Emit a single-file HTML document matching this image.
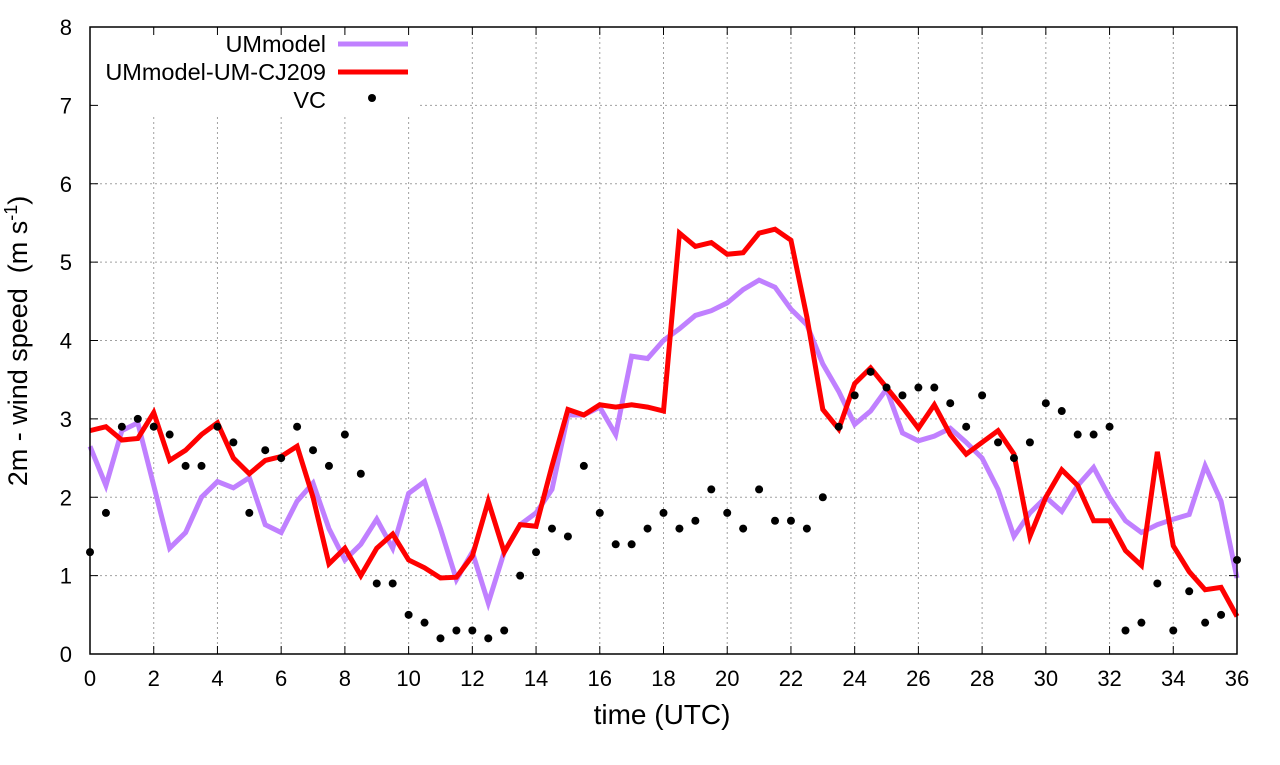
<!DOCTYPE html>
<html><head><meta charset="utf-8"><style>
body{margin:0;background:#fff;}
svg text{font-family:"Liberation Sans",sans-serif;fill:#000;}
</style></head><body>
<svg id="chart" width="1280" height="760" xmlns="http://www.w3.org/2000/svg">
<g id="grid"></g>
<rect x="92" y="29" width="328" height="88" fill="#fff"/>
<g id="series"></g>
<rect x="90" y="27" width="1147" height="627" fill="none" stroke="#000" stroke-width="1.5"/>
<g id="ticks"></g>
<text x="662" y="724" font-size="28" text-anchor="middle">time (UTC)</text>
<text transform="translate(27,341) rotate(-90)" font-size="27" text-anchor="middle">2m - wind speed &#160;(m s<tspan dy="-10" font-size="18">-1</tspan><tspan dy="10">)</tspan></text>
<g>
<g><text x="326" y="52" font-size="23.5" text-anchor="end">UMmodel</text><line x1="338" y1="44" x2="408" y2="44" stroke="#c080ff" stroke-width="5"/></g>
<g><text x="326" y="80" font-size="23.5" text-anchor="end">UMmodel-UM-CJ209</text><line x1="338" y1="72" x2="408" y2="72" stroke="#ff0000" stroke-width="5"/></g>
<g><text x="326" y="108" font-size="23.5" text-anchor="end">VC</text><circle cx="372" cy="98" r="4" fill="#000"/></g>
</g>
</svg>
<script>
const times=[];for(let i=0;i<=72;i++)times.push(i*0.5);
const umModel=[2.65,2.15,2.85,2.95,2.15,1.35,1.55,2.0,2.2,2.12,2.25,1.65,1.55,1.95,2.18,1.6,1.2,1.4,1.72,1.35,2.05,2.2,1.6,0.95,1.3,0.65,1.3,1.65,1.8,2.1,3.05,3.05,3.15,2.8,3.8,3.77,4.0,4.15,4.32,4.38,4.48,4.65,4.77,4.68,4.4,4.2,3.7,3.35,2.93,3.1,3.38,2.82,2.72,2.78,2.88,2.7,2.5,2.1,1.5,1.8,2.0,1.82,2.15,2.38,2.0,1.7,1.55,1.65,1.72,1.78,2.4,1.95,0.97];
const umCJ209=[2.85,2.9,2.73,2.75,3.08,2.47,2.6,2.8,2.95,2.5,2.3,2.47,2.52,2.65,2.0,1.15,1.35,1.0,1.35,1.53,1.2,1.1,0.97,0.98,1.25,1.95,1.3,1.65,1.63,2.4,3.12,3.05,3.18,3.15,3.18,3.15,3.1,5.37,5.2,5.25,5.1,5.12,5.37,5.42,5.28,4.3,3.12,2.87,3.45,3.65,3.4,3.15,2.88,3.18,2.8,2.55,2.7,2.85,2.55,1.5,2.0,2.35,2.15,1.7,1.7,1.32,1.13,2.58,1.38,1.05,0.82,0.85,0.48];
const vcObs=[1.3,1.8,2.9,3.0,2.9,2.8,2.4,2.4,2.9,2.7,1.8,2.6,2.5,2.9,2.6,2.4,2.8,2.3,0.9,0.9,0.5,0.4,0.2,0.3,0.3,0.2,0.3,1.0,1.3,1.6,1.5,2.4,1.8,1.4,1.4,1.6,1.8,1.6,1.7,2.1,1.8,1.6,2.1,1.7,1.7,1.6,2.0,2.9,3.3,3.6,3.4,3.3,3.4,3.4,3.2,2.9,3.3,2.7,2.5,2.7,3.2,3.1,2.8,2.8,2.9,0.3,0.4,0.9,0.3,0.8,0.4,0.5,1.2];
const xTicks=[0,2,4,6,8,10,12,14,16,18,20,22,24,26,28,30,32,34,36];
const yTicks=[0,1,2,3,4,5,6,7,8];
const NS='http://www.w3.org/2000/svg';
const X0=90,X1=1237,Y0=654,Y1=27;
function xs(v){return X0+(v-0)/36*(X1-X0);}
function ys(v){return Y0-(v-0)/8*(Y0-Y1);}
function mk(tag,attrs,parent){const e=document.createElementNS(NS,tag);for(const k in attrs)e.setAttribute(k,attrs[k]);parent.appendChild(e);return e;}
const grid=document.getElementById('grid'),ticks=document.getElementById('ticks'),series=document.getElementById('series');
xTicks.forEach(t=>{
  const g=mk('line',{x1:xs(t),x2:xs(t),y1:Y0,y2:Y1,stroke:'#a0a0a0','stroke-dasharray':'2,3','stroke-width':1},grid);
  
  
  mk('line',{x1:xs(t),x2:xs(t),y1:Y0,y2:Y0-8,stroke:'#000'},ticks);
  mk('line',{x1:xs(t),x2:xs(t),y1:Y1,y2:Y1+8,stroke:'#000'},ticks);
  const l=mk('text',{x:xs(t),y:Y0+32,'font-size':22,'text-anchor':'middle'},ticks);
  l.textContent=t;
  
  
});
yTicks.forEach(t=>{
  const g=mk('line',{x1:X0,x2:X1,y1:ys(t),y2:ys(t),stroke:'#a0a0a0','stroke-dasharray':'2,3','stroke-width':1},grid);
  
  
  mk('line',{x1:X0,x2:X0+8,y1:ys(t),y2:ys(t),stroke:'#000'},ticks);
  mk('line',{x1:X1,x2:X1-8,y1:ys(t),y2:ys(t),stroke:'#000'},ticks);
  const l=mk('text',{x:X0-18,y:ys(t)+8,'font-size':22,'text-anchor':'end'},ticks);
  l.textContent=t;
  
  
});
function line(vals,color,name){
  const p=mk('polyline',{points:vals.map((v,i)=>xs(times[i])+','+ys(v)).join(' '),fill:'none',stroke:color,'stroke-width':5,'stroke-linejoin':'miter'},series);
  
  
}
line(umModel,'#c080ff','ummodel-line');
line(umCJ209,'#ff0000','ummodel-um-cj209-line');
vcObs.forEach((v,i)=>{
  const c=mk('circle',{cx:xs(times[i]),cy:ys(v),r:4,fill:'#000'},series);
  
  
});
</script>
</body></html>
